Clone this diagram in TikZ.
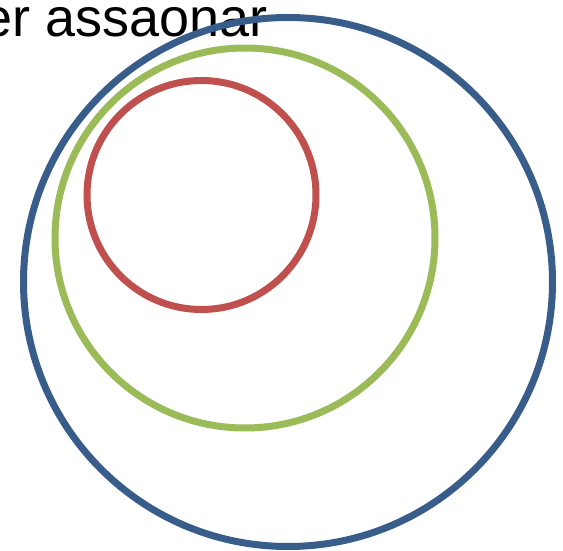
\documentclass[tikz,border=0pt]{standalone}
\usepackage{fontspec}
\setmainfont{Liberation Sans}

\begin{document}
\begin{tikzpicture}[x=1pt, y=-1pt]

% ---------------------------------------------------------------- colours
\definecolor{ringblue}{HTML}{385D8A}
\definecolor{ringgreen}{HTML}{9BBB59}
\definecolor{ringred}{HTML}{C0504D}

\tikzset{
    ring/.style={line width=7pt},
}

% ---------------------------------------------------------------- frame
\useasboundingbox (0,0) rectangle (563,551);
\clip (0,0) rectangle (563,551);

% ---------------------------------------------------------------- title
\node[anchor=base west, inner sep=0pt, font=\fontsize{54}{54}\selectfont]
    (title) at (-18,37) {er assaonar};

% ---------------------------------------------------------------- rings
\draw[ring, ringblue]  (288,282) circle (264.5);
\draw[ring, ringgreen] (245,238) circle (190);
\draw[ring, ringred]   (201.5,195) circle (114.5);

\end{tikzpicture}
\end{document}
